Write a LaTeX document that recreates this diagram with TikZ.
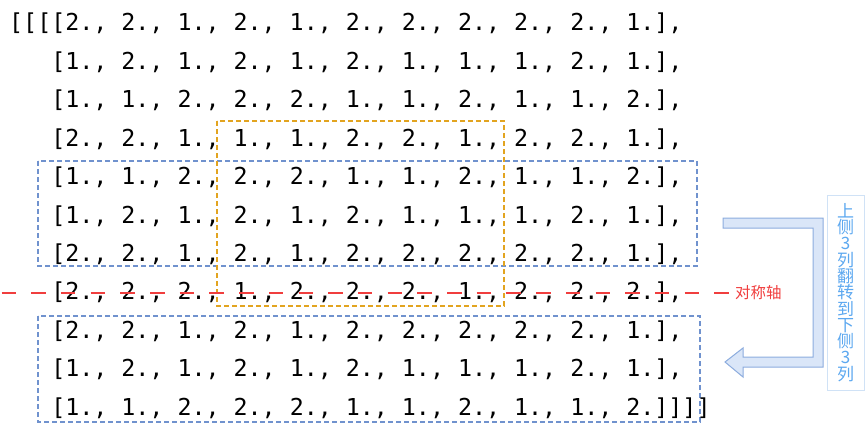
\documentclass[tikz,border=0pt]{standalone}
\usepackage{fontspec}
\newfontfamily\codefont{DejaVu Sans Mono}
\newfontfamily\cjk{Noto Sans CJK SC}
\newcommand\notefont{\cjk\fontsize{17}{16.3}\selectfont\lineskiplimit=-20pt\relax}
\frenchspacing

\definecolor{boxblue}{RGB}{112,146,206}
\definecolor{boxorange}{RGB}{226,164,32}
\definecolor{axisred}{RGB}{240,62,62}
\definecolor{arrowfill}{RGB}{218,230,248}
\definecolor{arrowline}{RGB}{140,172,222}
\definecolor{notetext}{RGB}{92,168,240}
\definecolor{noteline}{RGB}{208,226,246}

\tikzset{
  numrow/.style={anchor=base west, inner sep=0pt, font=\codefont\fontsize{23.3}{28}\selectfont},
  bluebox/.style={boxblue, line width=1.4pt, dash pattern=on 5pt off 3pt},
  orangebox/.style={boxorange, line width=1.4pt, dash pattern=on 5pt off 3pt},
  axisline/.style={axisred, line width=2pt, dash pattern=on 14.5pt off 15.2pt},
  axislabel/.style={anchor=west, inner sep=0pt, text=axisred, font=\cjk\fontsize{15.5}{17}\selectfont},
  fliparrow/.style={fill=arrowfill, draw=arrowline, line width=1pt, line join=miter},
  notebox/.style={draw=noteline, fill=white, line width=0.8pt, minimum width=37pt, minimum height=195pt,
    inner sep=0pt, align=center, text=notetext, font=\notefont}
}

\begin{document}
\begin{tikzpicture}[x=1pt,y=-1pt]
\useasboundingbox (0,0) rectangle (865,428);
% the three boxes
\draw[bluebox] (38,161) rectangle (697,266);
\draw[bluebox] (38,316) rectangle (700,422);
\draw[orangebox] (217,121) rectangle (504,306);
% the array
\node[numrow] (r1) at (9,31) {[[[[2., 2., 1., 2., 1., 2., 2., 2., 2., 2., 1.],};
\node[numrow] (r2) at (51.1,69.4) {[1., 2., 1., 2., 1., 2., 1., 1., 1., 2., 1.],};
\node[numrow] (r3) at (51.1,107.8) {[1., 1., 2., 2., 2., 1., 1., 2., 1., 1., 2.],};
\node[numrow] (r4) at (51.1,146.2) {[2., 2., 1., 1., 1., 2., 2., 1., 2., 2., 1.],};
\node[numrow] (r5) at (51.1,184.6) {[1., 1., 2., 2., 2., 1., 1., 2., 1., 1., 2.],};
\node[numrow] (r6) at (51.1,223) {[1., 2., 1., 2., 1., 2., 1., 1., 1., 2., 1.],};
\node[numrow] (r7) at (51.1,261.4) {[2., 2., 1., 2., 1., 2., 2., 2., 2., 2., 1.],};
\node[numrow] (r8) at (51.1,299.8) {[2., 2., 2., 1., 2., 2., 2., 1., 2., 2., 2.],};
\node[numrow] (r9) at (51.1,338.2) {[2., 2., 1., 2., 1., 2., 2., 2., 2., 2., 1.],};
\node[numrow] (r10) at (51.1,376.6) {[1., 2., 1., 2., 1., 2., 1., 1., 1., 2., 1.],};
\node[numrow] (r11) at (51.1,415) {[1., 1., 2., 2., 2., 1., 1., 2., 1., 1., 2.]]]]};
% symmetry axis
\coordinate (axisstart) at (1.5,293);
\node[axislabel] (axis) at (735,293) {对称轴};
\draw[axisline] (axisstart) -- ([xshift=-6.5pt]axis.west);
% bent arrow
\draw[fliparrow] (723,218) -- (823,218) -- (823,367) -- (743,367) -- (743,377) -- (725,362)
  -- (743,348) -- (743,357) -- (813,357) -- (813,228) -- (723,228) -- cycle;
\node[notebox] (note) at (845.5,292.5) {上\\侧\\3\\列\\翻\\转\\到\\下\\侧\\3\\列};
\end{tikzpicture}
\end{document}
